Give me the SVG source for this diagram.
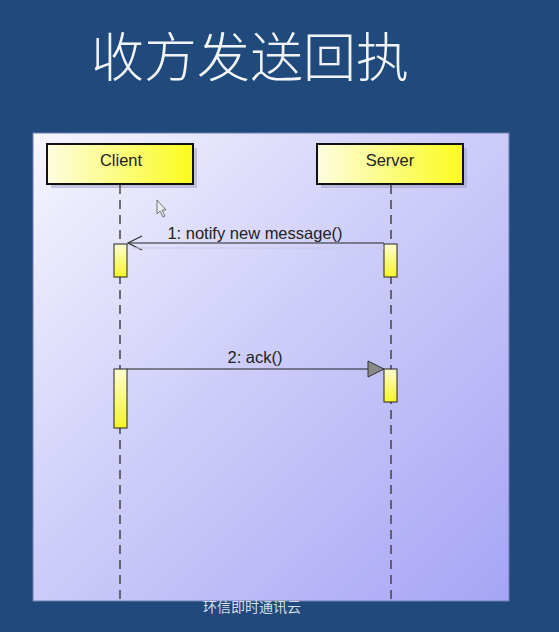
<svg xmlns="http://www.w3.org/2000/svg" width="559" height="632" viewBox="0 0 559 632">
<defs>
<linearGradient id="panel" x1="0" y1="0" x2="1" y2="1">
<stop offset="0" stop-color="#f6f6ff"/>
<stop offset="0.45" stop-color="#cfcef9"/>
<stop offset="1" stop-color="#a7a4f5"/>
</linearGradient>
<linearGradient id="yel" x1="0" y1="0" x2="1" y2="0">
<stop offset="0" stop-color="#fdfde0"/>
<stop offset="1" stop-color="#fbfb1e"/>
</linearGradient>
<linearGradient id="act" x1="0" y1="0" x2="0" y2="1">
<stop offset="0" stop-color="#fdfdd0"/>
<stop offset="1" stop-color="#f5f52a"/>
</linearGradient>
<marker id="open" markerWidth="16" markerHeight="16" refX="15" refY="8" orient="auto" markerUnits="userSpaceOnUse">
<path d="M1,1 L15,8 L1,15" fill="none" stroke="#333" stroke-width="1.2"/>
</marker>
<marker id="filled" markerWidth="18" markerHeight="18" refX="17" refY="9" orient="auto" markerUnits="userSpaceOnUse">
<path d="M1,1 L17,9 L1,17 Z" fill="#8a8a8a" stroke="#333" stroke-width="1"/>
</marker>
</defs>
<style>
.obj{fill:url(#yel);stroke:#111;stroke-width:2}
.shadow{fill:#9c9cc0;opacity:0.5}
.objtxt{font-family:"Liberation Sans","DejaVu Sans",sans-serif;font-size:16.5px;fill:#222;text-anchor:middle}
.life{stroke:#444;stroke-width:1.5;stroke-dasharray:9,6;fill:none}
.actv{fill:url(#act);stroke:#222;stroke-width:1}
.msg{stroke:#222;stroke-width:1.2;fill:none}
.lbl{font-family:"Liberation Sans","DejaVu Sans",sans-serif;font-size:16.5px;fill:#222;text-anchor:middle}
</style>
<rect width="559" height="632" fill="#1f4a7b"/>
<text x="250" y="77" font-family="'Noto Sans CJK SC',sans-serif" font-size="53" fill="#f2f4f8" text-anchor="middle" font-weight="300">收方发送回执</text>
<rect x="33" y="133" width="476" height="468" fill="url(#panel)" stroke="#6f7fb0" stroke-width="1"/>
<g id="client">
<rect class="shadow" x="51" y="148" width="146" height="40"/>
<rect class="obj" x="47" y="144" width="146" height="40"/>
<text class="objtxt" x="121" y="166">Client</text>
<line class="life" x1="120" y1="185" x2="120" y2="601"/>
<rect class="actv" x="114" y="244" width="13" height="33"/>
<rect class="actv" x="114" y="369" width="13" height="59"/>
</g>
<g id="server">
<rect class="shadow" x="321" y="148" width="146" height="40"/>
<rect class="obj" x="317" y="144" width="146" height="40"/>
<text class="objtxt" x="390" y="166">Server</text>
<line class="life" x1="391" y1="185" x2="391" y2="601"/>
<rect class="actv" x="384" y="244" width="13" height="33"/>
<rect class="actv" x="384" y="369" width="13" height="33"/>
</g>
<g id="connectors">
<line class="msg" x1="384" y1="243" x2="128" y2="243" marker-end="url(#open)"/>
<line x1="384" y1="248" x2="132" y2="248" stroke="#c8c8e4" stroke-width="1"/>
<text class="lbl" x="255" y="239">1: notify new message()</text>
<line class="msg" x1="127" y1="369" x2="384" y2="369" marker-end="url(#filled)"/>
<text class="lbl" x="255" y="363">2: ack()</text>
</g>
<path d="M157,200 L157,214 L160,211 L163,217 L165,216 L162,210 L166,210 Z" fill="#eee" stroke="#555" stroke-width="0.8"/>
<text x="252" y="612" font-family="'Noto Sans CJK SC',sans-serif" font-size="14" fill="#d6dbe6" text-anchor="middle">环信即时通讯云</text>
</svg>
